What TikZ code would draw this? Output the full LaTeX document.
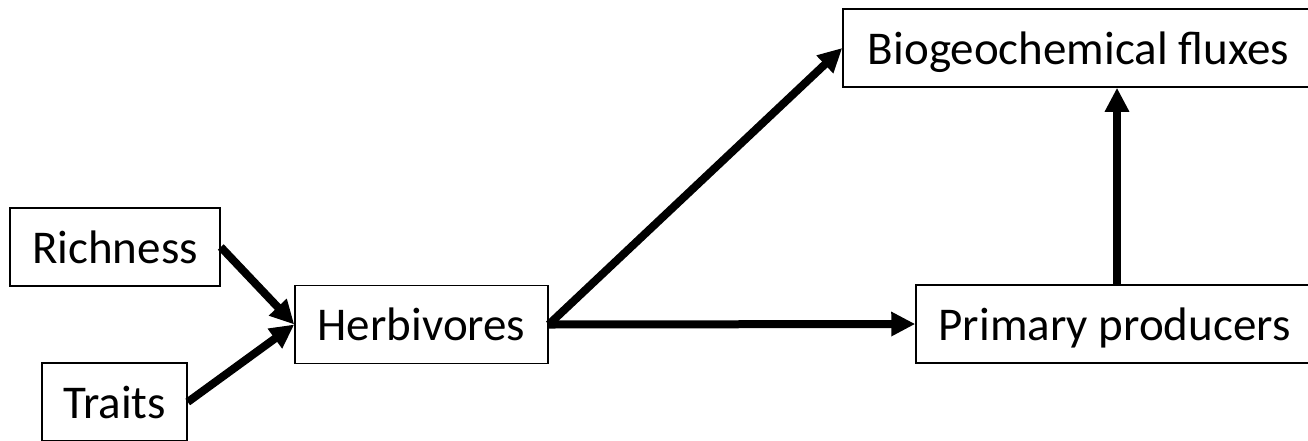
\documentclass[tikz,border=0pt]{standalone}
\usepackage{fontspec}
\setmainfont{Carlito}
\usetikzlibrary{arrows.meta,calc}
\begin{document}
\begin{tikzpicture}[x=1pt,y=-1pt,
  box/.style={draw,line width=1.5pt,inner sep=0pt,minimum height=78pt,
    text height=55pt,text depth=23pt,align=center,
    font=\fontsize{47pt}{56pt}\selectfont},
  link/.style={line width=8pt,-{Triangle[length=24pt,width=23pt]}}]
  \useasboundingbox (0,0) rectangle (1308,440);
  \clip (0,0) rectangle (1308,440);
  \fill[white] (0,0) rectangle (1308,440);

  % boxes
  \node[box,minimum width=210pt] (rich) at (115,247) {Richness};
  \node[box,minimum width=145pt] (trait) at (114.5,402) {Traits};
  \node[box,minimum width=253pt] (herb) at (421.5,324.5) {Herbivores};
  \node[box,minimum width=471pt] (bgc) at (1078.5,48) {Biogeochemical fluxes};
  \node[box,minimum width=397pt] (prim) at (1114.5,324) {Primary producers};

  % start of the vertical link, a little right of the box centre
  \coordinate (pn) at ($(prim.north)+(2.5,0)$);

  % influences
  \draw[link] (rich.east) -- (herb.west);
  \draw[link] (trait.east) -- (herb.west);
  \draw[link] (herb.east) -- (bgc.west);
  \draw[link] (herb.east) -- (prim.west);
  \draw[link] (pn) -- (pn |- bgc.south);
\end{tikzpicture}
\end{document}
